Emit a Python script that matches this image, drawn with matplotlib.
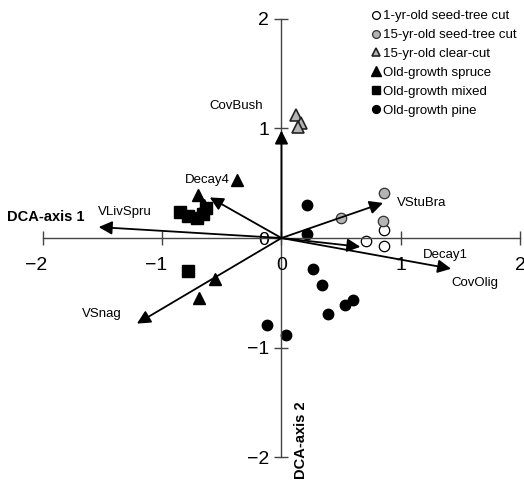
import matplotlib.pyplot as plt

plt.rcParams['font.family'] = ['Liberation Sans', 'DejaVu Sans']

# site scores (DCA axis 1, axis 2)
seed1_x = [0.86, 0.71, 0.86]
seed1_y = [0.07, -0.03, -0.07]
seed15_x = [0.86, 0.50, 0.85]
seed15_y = [0.41, 0.18, 0.155]
clear15_x = [0.12, 0.16, 0.14]
clear15_y = [1.12, 1.05, 1.01]
spruce_x = [-0.70, -0.65, -0.37, -0.56, -0.69]
spruce_y = [0.39, 0.30, 0.53, -0.37, -0.55]
mixed_x = [-0.85, -0.78, -0.71, -0.66, -0.63, -0.78]
mixed_y = [0.24, 0.20, 0.18, 0.22, 0.27, -0.30]
pine_x = [0.21, 0.21, 0.26, 0.34, 0.60, 0.53, 0.39, -0.12, 0.04]
pine_y = [0.30, 0.04, -0.28, -0.43, -0.565, -0.61, -0.69, -0.79, -0.88]

# environmental vectors
vec_names = ['VLivSpru', 'Decay4', 'VSnag', 'CovBush', 'VStuBra', 'Decay1', 'CovOlig']
vec_x = [-1.53, -0.60, -1.21, 0.0, 0.85, 0.66, 1.42]
vec_y = [0.10, 0.37, -0.78, 0.98, 0.32, -0.08, -0.28]

ticks = [-2, -1, 0, 1, 2]

# where each vector label sits
label_pos = {
    'VLivSpru': (-1.31, 0.24),
    'Decay4': (-0.62, 0.53),
    'VSnag': (-1.50, -0.69),
    'CovBush': (-0.38, 1.20),
    'VStuBra': (1.17, 0.32),
    'Decay1': (1.37, -0.155),
    'CovOlig': (1.62, -0.41),
}

fig = plt.figure(figsize=(5.24, 4.82), dpi=100)
ax = fig.add_axes([0, 0, 1, 1])
ax.set_xlim(-2.356, 2.03)
ax.set_ylim(-2.224, 2.17)

for side in ['top', 'right']:
    ax.spines[side].set_visible(False)
for side in ['left', 'bottom']:
    ax.spines[side].set_position('zero')
    ax.spines[side].set_bounds(-2, 2)
    ax.spines[side].set_color('#444444')
    ax.spines[side].set_linewidth(1.0)

ax.set_xticks(ticks)
ax.set_yticks(ticks)
ax.tick_params(direction='inout', length=10, width=1.0, color='#444444',
               labelsize=14, pad=4)
ax.tick_params(axis='x', labelbottom=False)

# x tick labels: digit centred on the tick, minus hangs to the left
for t in ticks:
    ax.annotate(f'{t}'.replace('-', '\u2212'), xy=(t, 0),
                xytext=(-6 if t < 0 else 0, -27), textcoords='offset pixels',
                ha='center', va='center', fontsize=14)

# vectors
for name, vx, vy in zip(vec_names, vec_x, vec_y):
    ax.annotate('', xy=(vx, vy), xytext=(0, 0),
                arrowprops=dict(arrowstyle='-|>', mutation_scale=20, lw=1.3,
                                color='black', shrinkA=0, shrinkB=0))
    lx, ly = label_pos[name]
    ax.text(lx, ly, name, fontsize=9.5, ha='center', va='center')

ms = 7.5
ax.plot(seed1_x, seed1_y, 'o', ms=ms, mfc='white', mec='black', mew=0.9,
        ls='none', label='1-yr-old seed-tree cut')
ax.plot(seed15_x, seed15_y, 'o', ms=ms, mfc='#b4b4b4', mec='#333333', mew=0.9,
        ls='none', label='15-yr-old seed-tree cut')
ax.plot(clear15_x, clear15_y, '^', ms=8.5, mfc='#b4b4b4', mec='#222222', mew=1.2,
        ls='none', label='15-yr-old clear-cut')
ax.plot(spruce_x, spruce_y, '^', ms=9, color='black', ls='none',
        label='Old-growth spruce')
ax.plot(mixed_x, mixed_y, 's', ms=8, color='black', ls='none',
        label='Old-growth mixed')
ax.plot(pine_x, pine_y, 'o', ms=ms, color='black', ls='none',
        label='Old-growth pine')

ax.text(-1.97, 0.19, 'DCA-axis 1', fontsize=10.5, fontweight='bold',
        ha='center', va='center')
ax.text(0.16, -1.84, 'DCA-axis 2', fontsize=10.5, fontweight='bold',
        ha='center', va='center', rotation=90)

ax.legend(loc='upper left', bbox_to_anchor=(0.699, 0.99), frameon=False,
          fontsize=9.5, handlelength=0.6, handletextpad=0.3, labelspacing=0.5,
          markerscale=0.75, borderaxespad=0)

fig.savefig('out.png', dpi=100)
